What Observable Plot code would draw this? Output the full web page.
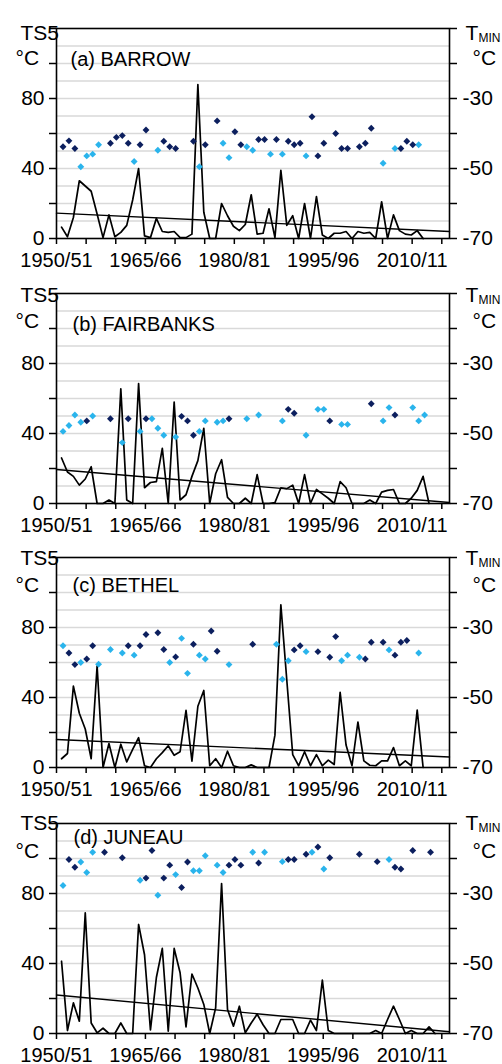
<!DOCTYPE html>
<html><head><meta charset="utf-8">
<script src="https://cdn.jsdelivr.net/npm/d3@7"></script>
<script src="https://cdn.jsdelivr.net/npm/@observablehq/plot@0.6"></script>
<style>
body{margin:0;background:#fff;}
#chart{width:502px;}
#chart svg{display:block;overflow:visible;}
</style></head><body><div id="chart"></div>
<script>
// ---------- data ----------
const stations = ["(a) BARROW", "(b) FAIRBANKS", "(c) BETHEL", "(d) JUNEAU"];
const firstWinter = 1950; // first value = winter 1950/51

const barrowTS5 = [6.5,1,12,33,30,27,14,0.5,13.5,1, 3.5,7.5,22,40,1.5,0.5,11.5,4,3.5,4, 0.5,0.5,2.5,88,15,0,0,20,13,7, 4.5,8,25,2.5,3,17,0.5,39,7.5,13, 0,20,0,24,2,0,3,3,4,0, 4,3,3.5,0,21,0,13.5,4.5,2.5,2, 4.5,0];
const fairbanksTS5 = [26,18,15.5,10.5,14,21,0,0,2,0, 65.5,2,0,68.5,9,12,12.5,31.5,0,58, 2,5,15.5,24.5,43,0,17,25,3.5,0, 0,3,0,16.5,0,0,0.5,9,8.5,10.5, 0,16.5,0,8,5.5,3,0,12.5,9,0, 0,0,2,0,6.5,7.5,8,0,0,3, 7.5,15.5,0];
const bethelTS5 = [5,8,46.5,31,22,5,58,0,13.7,0, 13.3,3.2,10.3,17,1,0,5,8.5,12.4,7, 9,32.6,3.6,35,44,1,5,0,9.3,1, 0,0,1.5,0,0,0,18.5,93,50,7.4, 1,9,1,7.4,1,4.2,1.7,43,12.8,1, 26,3.8,1.3,1,3.8,3.8,11.4,1,3.8,1, 32.8,0];
const juneauTS5 = [41.3,1.7,17.5,7,69,6,0.4,3,0,0, 6,0,0,62.3,45,2,32,48.6,1.3,48.6, 34.7,3.8,34,26,16.6,0,14.7,85.7,13.7,4.2, 15.6,0.4,6,11,5,0,0,8,8,8, 0,0,7.6,1.7,30.5,1.7,0,0,0,0, 0,0,0,1.7,0,8,15.6,8,0,1.7, 0,0,3.8,0];

// trend line end values (TS5 units) at left and right edge
const trendStart = [14.5, 19.4, 16, 22];
const trendEnd = [4, 0.6, 6, 1];

// TMIN (°C) diamonds: [winter start year, TMIN]
const barrowTminDark = [[1950,-43.8],[1951,-42.1],[1952,-44.3],[1958,-42.8],[1959,-41.1],[1960,-40.6],[1961,-42.8],[1963,-43.2],[1964,-39],[1967,-42.2],[1968,-43.8],[1969,-44.3],[1972,-42.2],[1974,-43.2],[1976,-36.4],[1979,-39.5],[1980,-43.2],[1983,-41.7],[1984,-41.7],[1986,-41.7],[1988,-42.2],[1989,-43.2],[1990,-42.8],[1992,-35.2],[1993,-46.4],[1994,-42.8],[1996,-40],[1997,-44.3],[1998,-44.3],[2000,-43.8],[2001,-42.8],[2002,-38.5],[2007,-44.3],[2008,-42.2],[2009,-43.2]];
const barrowTminLight = [[1953,-49.5],[1954,-46.4],[1955,-45.9],[1956,-43.2],[1962,-48],[1966,-44.8],[1973,-49.5],[1977,-42.8],[1978,-46.9],[1981,-43.8],[1982,-44.8],[1985,-45.9],[1987,-45.9],[1991,-46.4],[2004,-48.5],[2006,-44.3],[2010,-43.2]];

const fairbanksTminDark = [[1954,-46.4],[1958,-45.8],[1961,-45.8],[1964,-45.8],[1970,-45.1],[1971,-46.4],[1972,-50.5],[1978,-45.8],[1988,-43.1],[1989,-44.2],[1995,-46.4],[2002,-41.5],[2006,-44.7]];
const fairbanksTminLight = [[1950,-49.4],[1951,-47.7],[1952,-44.7],[1953,-46.8],[1955,-45],[1960,-52.6],[1963,-49.4],[1965,-45.8],[1966,-48.5],[1967,-50.5],[1969,-51],[1973,-49.4],[1974,-46.4],[1976,-46.8],[1977,-46.4],[1981,-45.8],[1983,-44.7],[1987,-46.4],[1991,-50.5],[1993,-43.1],[1994,-43.1],[1997,-47.4],[1998,-47.4],[2004,-46.4],[2005,-42.6],[2009,-42.6],[2010,-46.4],[2011,-44.7]];

const bethelTminDark = [[1951,-37.3],[1952,-40.6],[1954,-39],[1955,-35.2],[1961,-35.2],[1963,-35.2],[1964,-32],[1966,-31.5],[1967,-36.3],[1969,-38.4],[1972,-34.8],[1975,-31],[1976,-36.8],[1982,-34.8],[1989,-36.4],[1990,-35.2],[1993,-36.9],[1995,-38.5],[1996,-32.6],[2001,-39],[2002,-34.2],[2004,-34.2],[2006,-37.9],[2007,-34.2],[2008,-33.7]];
const bethelTminLight = [[1950,-35.2],[1953,-40],[1956,-40.5],[1958,-36.3],[1960,-37.3],[1962,-37.9],[1968,-40],[1970,-33.1],[1971,-43.1],[1973,-37.9],[1974,-39],[1978,-40.6],[1986,-34.8],[1987,-44.8],[1988,-39.5],[1991,-36.9],[1997,-39.5],[1998,-37.9],[2000,-38.5],[2005,-36.4],[2010,-37.3]];

const juneauTminDark = [[1951,-20.3],[1952,-22.5],[1957,-18.2],[1960,-19.8],[1964,-25.6],[1965,-17.7],[1967,-25.6],[1968,-21.9],[1970,-28.3],[1971,-21],[1978,-21.9],[1979,-20.3],[1980,-21.9],[1983,-21.3],[1988,-20.3],[1989,-20.3],[1991,-18.8],[1993,-16.7],[1995,-19.8],[2000,-18.8],[2003,-20.9],[2006,-22.5],[2007,-23],[2009,-17.7],[2012,-18.2]];
const juneauTminLight = [[1950,-27.7],[1953,-21],[1954,-24],[1955,-18.2],[1963,-26.2],[1966,-30.5],[1969,-24.6],[1972,-23.5],[1973,-23.5],[1974,-19.2],[1976,-21.9],[1977,-24],[1982,-18.2],[1984,-18.2],[1987,-20.9],[1992,-18.2],[1994,-23],[2005,-20.3]];

// axis ticks / labels
const xTickMarks = [1950,1955,1960,1965,1970,1975,1980,1985,1990,1995,2000,2005,2010,2015];
const xTickYears = [1950,1965,1980,1995,2010];
const xTickLabels = ["1950/51","1965/66","1980/81","1995/96","2010/11"];
const yTickMarks = [0,20,40,60,80,100,120];
const leftTickValues = [0,40,80];
const leftTickLabels = ["0","40","80"];
const rightTickLabels = ["-70","-50","-30"];
const gridValues = [10,20,30,40,50,60,70,80,90,100,110];

// ---------- layout ----------
const series = [
  {ts: barrowTS5, dark: barrowTminDark, light: barrowTminLight},
  {ts: fairbanksTS5, dark: fairbanksTminDark, light: fairbanksTminLight},
  {ts: bethelTS5, dark: bethelTminDark, light: bethelTminLight},
  {ts: juneauTS5, dark: juneauTminDark, light: juneauTminLight}
];
const heights = [265, 264, 266, 269];
const titleDx = [14, 16, 16, 17];
const titleDy = [37, 37.5, 34, 20];
const headDy = [11, 8.5, 7.5, 6.5];
const degDy = [36, 34, 34, 34];
const FONT = "'Liberation Sans', Arial, Helvetica, sans-serif";
const DARK = "#0c1f5e";
const LIGHT = "#2ab4ec";
const X0 = 1950, X1 = 2016.3;
const lineOffset = 0.85, dotOffset = 1.1;
const toLeft = t => (t + 70) * 2; // TMIN (right axis) -> TS5 units (left axis)

function panel(k) {
  const s = series[k];
  const h = heights[k];
  const lineData = s.ts.map((v, i) => ({x: firstWinter + i + lineOffset, y: v}));
  const trend = [{x: X0, y: trendStart[k]}, {x: X1, y: trendEnd[k]}];
  const dark = s.dark.map(([yr, t]) => ({x: yr + dotOffset, y: toLeft(t)}));
  const light = s.light.map(([yr, t]) => ({x: yr + dotOffset, y: toLeft(t)}));
  return Plot.plot({
    width: 502, height: h,
    marginTop: 28, marginBottom: h - 238, marginLeft: 56, marginRight: 53,
    style: {background: "transparent", overflow: "visible", fontFamily: FONT, fontSize: "20px", color: "#000"},
    x: {domain: [X0, X1]},
    y: {domain: [0, 120]},
    marks: [
      Plot.ruleY(gridValues, {stroke: "#d9d9d9", strokeWidth: 1.6}),
      Plot.axisX({ticks: xTickMarks, tickSize: 6, strokeWidth: 1.5, tickFormat: () => "", label: null}),
      Plot.axisX({ticks: xTickYears, tickSize: 0, tickPadding: 14, fontSize: 20,
        tickFormat: d => xTickLabels[xTickYears.indexOf(d)], label: null}),
      Plot.axisY({anchor: "left", ticks: yTickMarks, tickSize: 7, tickPadding: 5, strokeWidth: 1.5, fontSize: 21,
        tickFormat: d => { const j = leftTickValues.indexOf(d); return j < 0 ? "" : leftTickLabels[j]; }, label: null}),
      Plot.axisY({anchor: "right", ticks: yTickMarks, tickSize: 7, tickPadding: 6, strokeWidth: 1.5, fontSize: 21,
        tickFormat: d => { const j = leftTickValues.indexOf(d); return j < 0 ? "" : rightTickLabels[j]; }, label: null}),
      Plot.line(lineData, {x: "x", y: "y", stroke: "#000", strokeWidth: 1.7}),
      Plot.line(trend, {x: "x", y: "y", stroke: "#000", strokeWidth: 1.4}),
      Plot.dot(light, {x: "x", y: "y", symbol: "diamond2", r: 3.1, fill: LIGHT}),
      Plot.dot(dark, {x: "x", y: "y", symbol: "diamond2", r: 3.1, fill: DARK}),
      Plot.frame({stroke: "#000", strokeWidth: 1.6}),
      Plot.text([stations[k]], {frameAnchor: "top-left", dx: titleDx[k], dy: titleDy[k], textAnchor: "start", lineAnchor: "bottom", fontSize: 20, fill: "#000"}),
      Plot.text(["TS5"], {frameAnchor: "top-left", dx: -36, dy: headDy[k], textAnchor: "start", lineAnchor: "bottom", fontSize: 21, fill: "#000"}),
      Plot.text(["°C"], {frameAnchor: "top-left", dx: -41, dy: degDy[k], textAnchor: "start", lineAnchor: "bottom", fontSize: 21, fill: "#000"}),
      Plot.text(["T"], {frameAnchor: "top-right", dx: 16, dy: headDy[k], textAnchor: "start", lineAnchor: "bottom", fontSize: 21, fill: "#000"}),
      Plot.text(["MIN"], {frameAnchor: "top-right", dx: 29, dy: headDy[k] + 2, textAnchor: "start", lineAnchor: "bottom", fontSize: 12, fill: "#000"}),
      Plot.text(["°C"], {frameAnchor: "top-right", dx: 23, dy: degDy[k], textAnchor: "start", lineAnchor: "bottom", fontSize: 21, fill: "#000"})
    ]
  });
}

const chart = document.getElementById("chart");
for (let k = 0; k < 4; k++) chart.appendChild(panel(k));
</script>
</body></html>
